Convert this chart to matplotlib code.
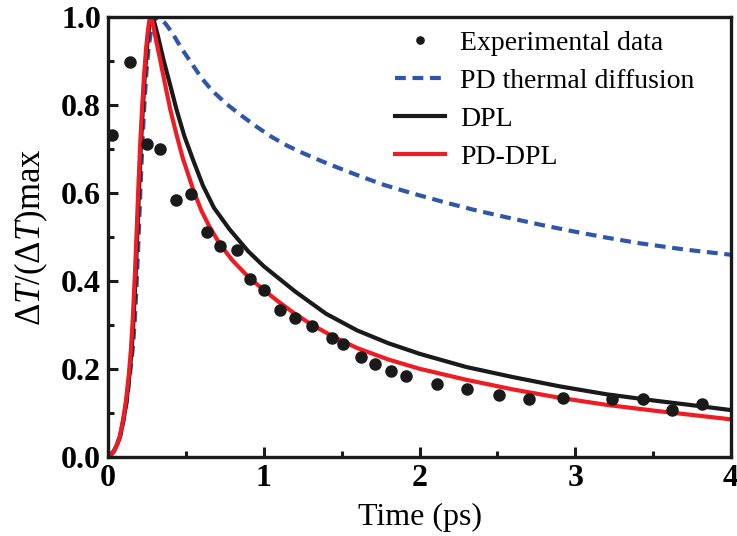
import numpy as np
import matplotlib
matplotlib.use("Agg")
import matplotlib.pyplot as plt
from matplotlib.ticker import MultipleLocator

plt.rcParams["font.family"] = ["Liberation Serif", "DejaVu Serif"]
plt.rcParams["mathtext.fontset"] = "custom"
plt.rcParams["mathtext.rm"] = "Liberation Serif"
plt.rcParams["mathtext.it"] = "Liberation Serif:italic"

# experimental points
exp_t = [0.024, 0.141, 0.252, 0.334, 0.437, 0.531, 0.634, 0.721, 0.826, 0.91, 1.0,
         1.105, 1.2, 1.312, 1.436, 1.506, 1.622, 1.716, 1.814, 1.914, 2.114, 2.307,
         2.512, 2.705, 2.92, 3.234, 3.433, 3.623, 3.81]
exp_y = [0.732, 0.898, 0.711, 0.70, 0.584, 0.597, 0.511, 0.48, 0.47, 0.405, 0.38,
         0.334, 0.317, 0.298, 0.272, 0.257, 0.227, 0.212, 0.196, 0.185, 0.166, 0.154,
         0.142, 0.132, 0.135, 0.132, 0.132, 0.108, 0.121]

# PD thermal diffusion
pd_t = [0, 0.04, 0.08, 0.12, 0.145, 0.16, 0.172, 0.182, 0.192, 0.202, 0.212, 0.223,
        0.235, 0.248, 0.262, 0.278, 0.295, 0.315, 0.34, 0.37, 0.415, 0.47, 0.537, 0.6,
        0.666, 0.76, 0.858, 0.95, 1.05, 1.15, 1.233, 1.33, 1.425, 1.6, 1.77, 1.95,
        2.153, 2.35, 2.56, 2.78, 2.99, 3.2, 3.416, 3.7, 4.0]
pd_y = [0, 0.015, 0.05, 0.125, 0.2, 0.25, 0.31, 0.38, 0.46, 0.55, 0.64, 0.73, 0.81,
        0.88, 0.935, 0.972, 0.992, 1.0, 0.995, 0.985, 0.963, 0.93, 0.895, 0.862, 0.834,
        0.803, 0.776, 0.752, 0.728, 0.708, 0.694, 0.679, 0.665, 0.641, 0.619, 0.6,
        0.58, 0.562, 0.545, 0.528, 0.513, 0.499, 0.486, 0.472, 0.46]

# DPL
dpl_t = [0, 0.02, 0.04, 0.06, 0.077, 0.10, 0.12, 0.137, 0.152, 0.162, 0.172, 0.182,
         0.192, 0.202, 0.213, 0.225, 0.237, 0.25, 0.26, 0.27, 0.28, 0.29, 0.30, 0.32,
         0.355, 0.40, 0.44, 0.49, 0.55, 0.61, 0.68, 0.78, 0.9, 1.0, 1.2, 1.4, 1.6, 1.8,
         2.0, 2.3, 2.6, 2.9, 3.2, 3.5, 3.8, 4.0]
dpl_y = [0, 0.005, 0.015, 0.03, 0.046, 0.085, 0.13, 0.185, 0.243, 0.30, 0.37, 0.45,
         0.54, 0.63, 0.72, 0.80, 0.87, 0.93, 0.965, 0.99, 1.0, 0.996, 0.985, 0.958,
         0.905, 0.845, 0.79, 0.73, 0.672, 0.617, 0.567, 0.518, 0.468, 0.434, 0.377,
         0.326, 0.288, 0.259, 0.235, 0.205, 0.182, 0.161, 0.143, 0.129, 0.116, 0.107]

# PD-DPL
pddpl_t = [0, 0.02, 0.04, 0.06, 0.075, 0.097, 0.116, 0.133, 0.147, 0.157, 0.167,
           0.177, 0.187, 0.197, 0.208, 0.22, 0.232, 0.245, 0.255, 0.264, 0.272, 0.281,
           0.29, 0.31, 0.334, 0.365, 0.40, 0.44, 0.48, 0.55, 0.6, 0.65, 0.72, 0.8, 0.9,
           1.0, 1.1, 1.2, 1.3, 1.44, 1.6, 1.8, 2.0, 2.3, 2.6, 2.9, 3.2, 3.5, 3.8, 4.0]
pddpl_y = [0, 0.005, 0.015, 0.03, 0.046, 0.085, 0.13, 0.185, 0.243, 0.30, 0.37, 0.45,
           0.54, 0.63, 0.72, 0.80, 0.87, 0.93, 0.965, 0.99, 1.0, 0.995, 0.982, 0.945,
           0.905, 0.85, 0.79, 0.733, 0.68, 0.605, 0.56, 0.525, 0.483, 0.447, 0.41, 0.38,
           0.352, 0.326, 0.303, 0.275, 0.248, 0.222, 0.201, 0.176, 0.154, 0.135, 0.119,
           0.106, 0.094, 0.086]

fig = plt.figure(figsize=(7.37, 5.36), dpi=100)
ax = fig.add_axes([0.1465, 0.147, 0.8455, 0.821])

ax.plot(exp_t, exp_y, "o", color="#1a1a1a", markersize=8, label="Experimental data",
        zorder=5)
ax.plot(pd_t, pd_y, color="#3056a8", lw=3, dashes=(2.6, 1.6), label="PD thermal diffusion")
ax.plot(dpl_t, dpl_y, color="#1a1a1a", lw=3, label="DPL")
ax.plot(pddpl_t, pddpl_y, color="#ee1c23", lw=3, label="PD-DPL")

ax.set_xlim(0, 4)
ax.set_ylim(0, 1)
ax.xaxis.set_major_locator(MultipleLocator(1))
ax.xaxis.set_minor_locator(MultipleLocator(0.5))
ax.yaxis.set_major_locator(MultipleLocator(0.2))
ax.yaxis.set_minor_locator(MultipleLocator(0.1))
ax.yaxis.set_major_formatter(plt.FormatStrFormatter("%.1f"))

for s in ax.spines.values():
    s.set_linewidth(2.4)
    s.set_color("#1a1a1a")
ax.tick_params(which="both", direction="in", width=2.2, color="#1a1a1a",
               labelsize=23, pad=5)
ax.tick_params(which="major", length=7)
ax.tick_params(which="minor", length=4)
for lab in ax.get_xticklabels() + ax.get_yticklabels():
    lab.set_fontweight("bold")

ax.set_xlabel("Time (ps)", fontsize=23, labelpad=7)
ax.set_ylabel(r"$\Delta T/(\Delta T)$max", fontsize=25, labelpad=8)

leg = ax.legend(loc="upper left", frameon=False, fontsize=20, handlelength=1.8,
                handletextpad=0.55, labelspacing=0.45, borderaxespad=0.0,
                markerscale=0.65, bbox_to_anchor=(0.443, 0.995))

fig.savefig("out.png", dpi=100)
